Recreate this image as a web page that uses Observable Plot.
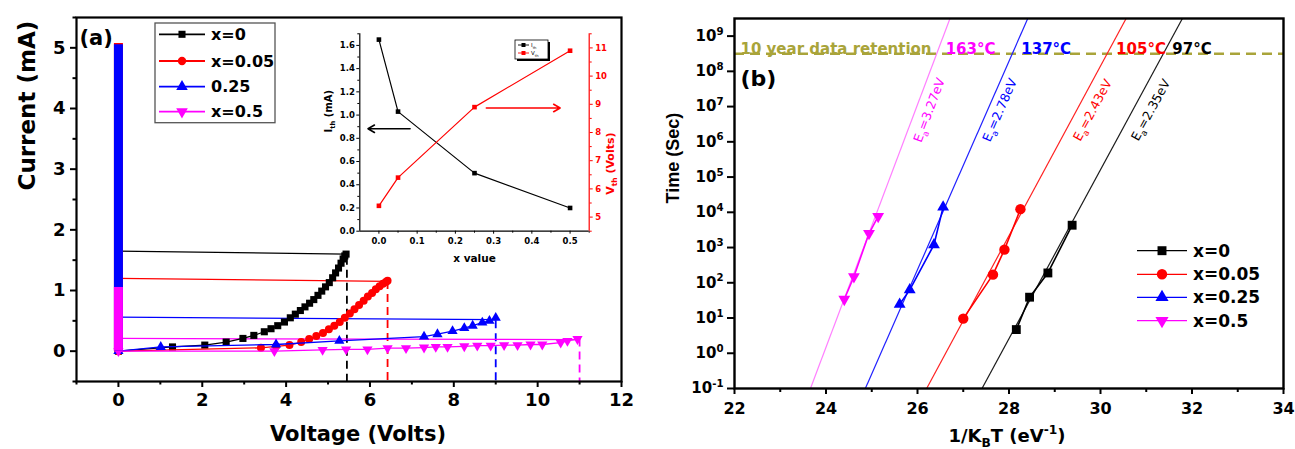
<!DOCTYPE html>
<html><head><meta charset="utf-8">
<script src="https://cdn.jsdelivr.net/npm/d3@7"></script>
<script src="https://cdn.jsdelivr.net/npm/@observablehq/plot@0.6"></script>
<style>
body{margin:0;background:#fff;}
#fig{position:relative;width:1295px;height:449px;overflow:hidden;background:#fff;}
#fig > svg{position:absolute;}
</style></head><body><div id="fig"></div>
<script>
// ================= DATA : panel (a) I-V sweeps =================
const seriesA = ["x=0", "x=0.05", "0.25", "x=0.5"];
const blackV = [0, 1.29, 2.06, 2.57, 2.97, 3.23, 3.48, 3.64, 3.80, 3.96, 4.10, 4.22, 4.34, 4.45, 4.56, 4.66, 4.76, 4.85, 4.94, 5.03, 5.11, 5.18, 5.25, 5.31, 5.36, 5.40, 5.43];
const blackI = [0, 0.07, 0.10, 0.15, 0.21, 0.26, 0.32, 0.37, 0.42, 0.48, 0.55, 0.61, 0.67, 0.73, 0.79, 0.85, 0.92, 0.99, 1.06, 1.13, 1.21, 1.29, 1.37, 1.45, 1.52, 1.57, 1.60];
const redV = [0, 3.40, 3.76, 4.08, 4.36, 4.55, 4.72, 4.88, 5.02, 5.15, 5.28, 5.40, 5.52, 5.63, 5.74, 5.85, 5.95, 6.05, 6.14, 6.23, 6.31, 6.38, 6.42];
const redI = [0, 0.055, 0.08, 0.10, 0.15, 0.20, 0.25, 0.30, 0.36, 0.42, 0.48, 0.55, 0.62, 0.69, 0.76, 0.83, 0.90, 0.96, 1.02, 1.07, 1.11, 1.14, 1.16];
const blueV = [0, 1.01, 3.76, 5.27, 7.29, 7.61, 7.97, 8.25, 8.45, 8.68, 8.85, 9.00];
const blueI = [0, 0.07, 0.11, 0.17, 0.24, 0.28, 0.33, 0.38, 0.42, 0.47, 0.50, 0.55];
const magV = [0, 3.72, 4.87, 5.43, 5.94, 6.42, 6.86, 7.29, 7.57, 7.85, 8.25, 8.56, 8.88, 9.20, 9.52, 9.83, 10.11, 10.55, 10.71, 10.95];
const magI = [0, 0.00, 0.02, 0.03, 0.03, 0.05, 0.05, 0.06, 0.07, 0.07, 0.08, 0.09, 0.09, 0.10, 0.10, 0.11, 0.11, 0.14, 0.17, 0.20];
// return sweeps (high V back to 0 V)
const retStartV = [5.43, 6.42, 9.00, 10.95];
const retStartI = [1.60, 1.15, 0.52, 0.19];
const retEndV = [0, 0, 0, 0];
const retEndI = [1.65, 1.20, 0.56, 0.21];
// dense points at 0 V (current sweep), top of each column
const barSeries = ["x=0.05", "0.25", "x=0.5"];
const barTopI = [5.07, 5.05, 1.05];
// threshold voltages (dashed drops)
const vthDashV = [5.45, 6.42, 9.00, 11.00];
const vthDashTopI = [1.55, 1.15, 0.50, 0.20];
// axes (a)
const aXDomain = [-1, 12], aYDomain = [-0.5, 5.5];
const aXMajor = [0, 2, 4, 6, 8, 10, 12], aXMinor = [-1, 1, 3, 5, 7, 9, 11];
const aYMajor = [0, 1, 2, 3, 4, 5], aYMinor = [-0.5, 0.5, 1.5, 2.5, 3.5, 4.5, 5.5];

// ================= DATA : inset =================
const insetX = [0, 0.05, 0.25, 0.5];
const insetIth = [1.65, 1.03, 0.50, 0.20];
const insetVth = [5.4, 6.4, 8.9, 10.9];
const insetXDomain = [-0.05, 0.55], insetIDomain = [0, 1.7], insetVDomain = [4.5, 11.5];
const insetXMajor = [0, 0.1, 0.2, 0.3, 0.4, 0.5], insetXMinor = [0.05, 0.15, 0.25, 0.35, 0.45, 0.55];
const insetIMajor = [0, 0.2, 0.4, 0.6, 0.8, 1.0, 1.2, 1.4, 1.6], insetIMinor = [0.1, 0.3, 0.5, 0.7, 0.9, 1.1, 1.3, 1.5, 1.7];
const insetVMajor = [5, 6, 7, 8, 9, 10, 11], insetVMinor = [4.5, 5.5, 6.5, 7.5, 8.5, 9.5, 10.5, 11.5];
const arrowIth = {x1: 0.0815, x2: -0.0286, y: 0.882};
const arrowVth = {x1: 0.281, x2: 0.474, y: 8.87};

// ================= DATA : panel (b) retention =================
const seriesB = ["x=0", "x=0.05", "x=0.25", "x=0.5"];
const bX0 = [28.16, 28.45, 28.85, 29.38], bT0 = [4.7, 39, 190, 4300];
const bX1 = [27.00, 27.65, 27.90, 28.25], bT1 = [9.6, 170, 870, 12300];
const bX2 = [25.61, 25.83, 26.36, 26.56], bT2 = [24.5, 63, 1200, 14000];
const bX3 = [24.40, 24.61, 24.94, 25.14], bT3 = [34, 150, 2500, 7700];
// Arrhenius fit lines: x at bottom and top of the plot
const fitXLow = [27.41, 26.20, 24.86, 23.66];
const fitXHigh = [31.79, 30.56, 28.41, 26.71];
const eaLabels = ["E_{a}=2.35eV", "E_{a}=2.43eV", "E_{a}=2.78eV", "E_{a}=3.27eV"];
const eaX = [31.10, 29.83, 27.80, 26.26];
const eaT = [7.9e6, 7.9e6, 7.9e6, 7.9e6];
const tempLabels = ["97°C", "105°C", "137°C", "163°C"];
const retentionSec = 3.15e8; // 10 years
const bXDomain = [22, 34], bYDomain = [0.1, 3.16e9];
const bXMajor = [22, 24, 26, 28, 30, 32, 34], bXMinor = [23, 25, 27, 29, 31, 33];
const bYTicks = [0.1, 1, 10, 100, 1e3, 1e4, 1e5, 1e6, 1e7, 1e8, 1e9];
const bYExp = [-1, 0, 1, 2, 3, 4, 5, 6, 7, 8, 9];

// ================= STYLES =================
const colA = ["#000000", "#ff0000", "#0000ff", "#ff00ff"];
const fitCol = ["#1a1a1a", "#ff2020", "#2020ff", "#ff80ff"];
const olive = "#a9a43a";
const FONT = "'DejaVu Sans', 'Liberation Sans', sans-serif";
const sqrt3 = Math.sqrt(3);
const invTriangle = {draw(ctx, size) {
  const y = -Math.sqrt(size / (sqrt3 * 3));
  ctx.moveTo(0, -y * 2); ctx.lineTo(-sqrt3 * y, y); ctx.lineTo(sqrt3 * y, y); ctx.closePath();
}};
const symA = ["square", "circle", "triangle", invTriangle];
const d3Sym = [d3.symbolSquare, d3.symbolCircle, d3.symbolTriangle, invTriangle];

// rich text: _{sub} and ^{sup}
function rich(root) {
  root.querySelectorAll("text").forEach(t => {
    const s = t.textContent;
    if (!/[_^]\{/.test(s)) return;
    const fs = parseFloat(getComputedStyle(t).fontSize) || 12;
    while (t.firstChild) t.removeChild(t.firstChild);
    const re = /([_^])\{([^}]*)\}/g; let last = 0, m, shift = 0;
    const add = (txt, sh, small) => {
      const ts = document.createElementNS("http://www.w3.org/2000/svg", "tspan");
      ts.textContent = txt; const dy = sh - shift;
      if (dy) ts.setAttribute("dy", dy);
      if (small) ts.setAttribute("font-size", fs * 0.68);
      t.appendChild(ts); shift = sh;
    };
    while ((m = re.exec(s))) {
      if (m.index > last) add(s.slice(last, m.index), 0, false);
      add(m[2], m[1] === "_" ? fs * 0.3 : -fs * 0.42, true);
      last = re.lastIndex;
    }
    if (last < s.length) add(s.slice(last), 0, false);
  });
}
const fig = document.getElementById("fig");
function place(svg, left, top) { svg.style.left = left + "px"; svg.style.top = top + "px"; fig.appendChild(svg); rich(svg); return svg; }
const baseStyle = {fontFamily: FONT, fontWeight: "bold", background: "transparent", overflow: "visible", color: "#000"};

// ================= PANEL (a) =================
const fwdA = [[blackV, blackI], [redV, redI], [blueV, blueI], [magV, magI]].map(([v, i], k) => v.map((d, j) => ({s: seriesA[k], k, v: d, i: i[j]})));
const retRows = retStartV.map((d, k) => ({k, v1: d, i1: retStartI[k], v2: retEndV[k], i2: retEndI[k]}));
const barRows = barSeries.map((s, j) => ({k: seriesA.indexOf(s), top: barTopI[j]}));
const dashRows = vthDashV.map((d, k) => ({k, v: d, top: vthDashTopI[k]}));
const rA = [4, 4, 3.8, 3.8];

const marksA = [
  Plot.axisX({ticks: aXMajor, tickSize: 6, tickPadding: 6, tickFormat: d => String(d), fontSize: 18, fontWeight: "bold", strokeWidth: 2, label: null}),
  Plot.axisX({ticks: aXMinor, tickSize: 3.5, tickFormat: () => "", strokeWidth: 2, label: null}),
  Plot.axisY({ticks: aYMajor, tickSize: 6, tickPadding: 5, tickFormat: d => String(d), fontSize: 18, fontWeight: "bold", strokeWidth: 2, label: null}),
  Plot.axisY({ticks: aYMinor, tickSize: 3.5, tickFormat: () => "", strokeWidth: 2, label: null}),
  Plot.ruleX(dashRows, {x: "v", y1: "top", y2: aYDomain[0], stroke: d => colA[d.k], strokeWidth: 1.8, strokeDasharray: "8,5"}),
  Plot.link(retRows, {x1: "v1", y1: "i1", x2: "v2", y2: "i2", stroke: d => colA[d.k], strokeWidth: 1.3}),
];
fwdA.forEach((rows, k) => {
  marksA.push(Plot.line(rows, {x: "v", y: "i", stroke: colA[k], strokeWidth: 1.3}));
  marksA.push(Plot.dot(rows, {x: "v", y: "i", fill: colA[k], stroke: "none", symbol: symA[k], r: rA[k]}));
});
barRows.forEach(b => marksA.push(Plot.ruleX([b], {x: 0, y1: 0, y2: "top", stroke: colA[b.k], strokeWidth: 9})));
marksA.push(
  Plot.frame({strokeWidth: 2.2}),
  Plot.text(["(a)"], {text: d => d, frameAnchor: "top-left", dx: 3, dy: 21, textAnchor: "start", lineAnchor: "middle", fontSize: 21, fontWeight: "bold"}),
  Plot.text(["Voltage (Volts)"], {text: d => d, frameAnchor: "bottom", dx: 9, dy: 59, lineAnchor: "bottom", fontSize: 21, fontWeight: "bold"}),
  Plot.text(["Current (mA)"], {text: d => d, frameAnchor: "left", dx: -49, dy: -9, rotate: -90, fontSize: 23, fontWeight: "bold"})
);
const plotA = Plot.plot({
  width: 640, height: 449, marginLeft: 76, marginRight: 19, marginTop: 17, marginBottom: 68,
  x: {domain: aXDomain}, y: {domain: aYDomain}, style: baseStyle, marks: marksA
});
place(plotA, 0, 0);

// ================= INSET =================
const insetDims = {width: 307, height: 245, marginLeft: 41.3, marginRight: 36.3, marginTop: 8.3, marginBottom: 39.3};
const iRows = insetX.map((x, j) => ({x, ith: insetIth[j], vth: insetVth[j]}));
const insetI = Plot.plot({
  ...insetDims, x: {domain: insetXDomain}, y: {domain: insetIDomain}, style: {...baseStyle, fontSize: "8.5px"},
  marks: [
    Plot.ruleX([insetXDomain[0]], {stroke: "#000", strokeWidth: 1.2}),
    Plot.ruleY([insetIDomain[0]], {stroke: "#000", strokeWidth: 1.2}),
    Plot.axisX({ticks: insetXMajor, tickSize: 3, tickPadding: 4, tickFormat: d3.format(".1f"), fontSize: 8.5, fontWeight: "bold", label: null}),
    Plot.axisX({ticks: insetXMinor, tickSize: 2, tickFormat: () => "", label: null}),
    Plot.axisY({ticks: insetIMajor, tickSize: 3, tickPadding: 2, tickFormat: d3.format(".1f"), fontSize: 8.5, fontWeight: "bold", label: null}),
    Plot.axisY({ticks: insetIMinor, tickSize: 2, tickFormat: () => "", label: null}),
    Plot.line(iRows, {x: "x", y: "ith", stroke: "#000", strokeWidth: 1.2}),
    Plot.dot(iRows, {x: "x", y: "ith", fill: "#000", symbol: "square", r: 2.6}),
    Plot.arrow([arrowIth], {x1: "x1", y1: "y", x2: "x2", y2: "y", stroke: "#000", strokeWidth: 1.6, headLength: 7}),
    Plot.text(["x value"], {text: d => d, frameAnchor: "bottom", dy: 31, lineAnchor: "bottom", fontSize: 10.5, fontWeight: "bold"}),
    Plot.text(["I_{th} (mA)"], {text: d => d, frameAnchor: "left", dx: -31, rotate: -90, fontSize: 10, fontWeight: "bold"})
  ]
});
place(insetI, 318, 25);
const insetV = Plot.plot({
  ...insetDims, x: {domain: insetXDomain, axis: null}, y: {domain: insetVDomain}, style: {...baseStyle, fontSize: "8.5px"},
  marks: [
    Plot.ruleX([insetXDomain[1]], {stroke: "#ff0000", strokeWidth: 1.2}),
    Plot.axisY({anchor: "right", ticks: insetVMajor, tickSize: 3, tickPadding: 3, tickFormat: d => String(d), fontSize: 8.5, fontWeight: "bold", fill: "#ff0000", stroke: "#ff0000", label: null}),
    Plot.axisY({anchor: "right", ticks: insetVMinor, tickSize: 2, tickFormat: () => "", stroke: "#ff0000", label: null}),
    Plot.line(iRows, {x: "x", y: "vth", stroke: "#ff0000", strokeWidth: 1.2}),
    Plot.dot(iRows, {x: "x", y: "vth", fill: "#ff0000", symbol: "square", r: 2.6}),
    Plot.arrow([arrowVth], {x1: "x1", y1: "y", x2: "x2", y2: "y", stroke: "#ff0000", strokeWidth: 1.6, headLength: 7}),
    Plot.text(["V_{th} (Volts)"], {text: d => d, frameAnchor: "right", dx: 21, rotate: -90, fontSize: 11, fontWeight: "bold", fill: "#ff0000"})
  ]
});
place(insetV, 318, 25);

// ================= PANEL (b) =================
const bXs = [bX0, bX1, bX2, bX3], bTs = [bT0, bT1, bT2, bT3];
const bDims = {width: 655, height: 449, marginLeft: 94, marginRight: 12, marginTop: 18, marginBottom: 61};
const innerW = bDims.width - bDims.marginLeft - bDims.marginRight;
const innerH = bDims.height - bDims.marginTop - bDims.marginBottom;
const lgMin = Math.log10(bYDomain[0]), lgMax = Math.log10(bYDomain[1]);
const fitRows = fitXLow.map((x, k) => ({k, x1: x, x2: fitXHigh[k]}));
const eaRows = eaLabels.map((t, k) => {
  const dxPx = (fitXHigh[k] - fitXLow[k]) / (bXDomain[1] - bXDomain[0]) * innerW;
  return {k, t, x: eaX[k], y: eaT[k], rot: -Math.atan2(innerH, dxPx) * 180 / Math.PI};
});
const tempRows = tempLabels.map((t, k) => ({k, t, y: retentionSec,
  x: fitXLow[k] + (Math.log10(retentionSec) - lgMin) / (lgMax - lgMin) * (fitXHigh[k] - fitXLow[k])}));
const rB = [5, 5.2, 4.4, 4.4];
const marksB = [
  Plot.axisX({ticks: bXMajor, tickSize: 6, tickPadding: 8, tickFormat: d => String(d), fontSize: 16, fontWeight: "bold", strokeWidth: 2, label: null}),
  Plot.axisX({ticks: bXMinor, tickSize: 4, tickFormat: () => "", strokeWidth: 2, label: null}),
  Plot.axisY({ticks: bYTicks, tickSize: 7, tickPadding: 4, tickFormat: d => `10^{${bYExp[bYTicks.indexOf(d)]}}`, fontSize: 15, fontWeight: "bold", strokeWidth: 2, label: null}),
  Plot.ruleY([retentionSec], {stroke: olive, strokeWidth: 2.6, strokeDasharray: "10,6"}),
  Plot.link(fitRows, {x1: "x1", y1: bYDomain[0], x2: "x2", y2: bYDomain[1], stroke: d => fitCol[d.k], strokeWidth: 1.2}),
];
bXs.forEach((xs, k) => {
  const rows = xs.map((x, j) => ({x, t: bTs[k][j]}));
  marksB.push(Plot.line(rows, {x: "x", y: "t", stroke: colA[k], strokeWidth: 1.6}));
  marksB.push(Plot.dot(rows, {x: "x", y: "t", fill: colA[k], stroke: "none", symbol: symA[k], r: rB[k]}));
});
marksB.push(
  Plot.frame({strokeWidth: 2.4}),
  Plot.text(eaRows, {x: "x", y: "y", text: "t", rotate: "rot", fill: d => colA[d.k], fontSize: 12.5, fontWeight: "normal"}),
  Plot.text(tempRows, {x: "x", y: "y", text: "t", dx: 9, dy: -5, textAnchor: "start", fill: d => colA[d.k], fontSize: 15, fontWeight: "bold"}),
  Plot.text(["10 year data retention"], {x: bXDomain[0], y: retentionSec, text: d => d, dx: 6, dy: -5, textAnchor: "start", fill: olive, fontSize: 15, fontWeight: "bold"}),
  Plot.text(["(b)"], {text: d => d, frameAnchor: "top-left", dx: 6, dy: 60, textAnchor: "start", lineAnchor: "middle", fontSize: 22, fontWeight: "bold"}),
  Plot.text(["1/K_{B}T (eV^{-1})"], {text: d => d, frameAnchor: "bottom", dx: -2, dy: 53, lineAnchor: "bottom", fontSize: 18, fontWeight: "bold"}),
  Plot.text(["Time (Sec)"], {text: d => d, frameAnchor: "left", dx: -61, rotate: -90, fontSize: 18, fontWeight: "bold", fontFamily: "'Liberation Sans', Arial, sans-serif"})
);
const plotB = Plot.plot({
  ...bDims, x: {domain: bXDomain}, y: {type: "log", domain: bYDomain}, style: baseStyle, marks: marksB
});
place(plotB, 640, 0);

// ================= LEGENDS (overlay) =================
const ov = d3.create("svg").attr("width", 1295).attr("height", 449)
  .style("left", "0px").style("top", "0px").style("font-family", FONT).style("font-weight", "bold");
// legend (a)
ov.append("rect").attr("x", 155).attr("y", 23).attr("width", 120).attr("height", 99.7)
  .attr("fill", "white").attr("stroke", "#555").attr("stroke-width", 1.3);
const legAY = [34.3, 61, 86.7, 111.7], legASize = [50, 55, 58, 58];
seriesA.forEach((s, k) => {
  const g = ov.append("g").attr("transform", `translate(0,${legAY[k]})`);
  g.append("line").attr("x1", 159).attr("x2", 205).attr("stroke", colA[k]).attr("stroke-width", 1.8);
  g.append("path").attr("transform", "translate(182,0)").attr("d", d3.symbol(d3Sym[k], legASize[k])()).attr("fill", colA[k]);
  g.append("text").attr("x", 211).attr("dy", "0.36em").attr("font-size", 16).text(s);
});
// legend (b)
const legBY = [250.7, 274.3, 297.3, 320.7], legBSize = [80, 85, 75, 75];
seriesB.forEach((s, k) => {
  const g = ov.append("g").attr("transform", `translate(0,${legBY[k]})`);
  g.append("line").attr("x1", 1137).attr("x2", 1187).attr("stroke", colA[k]).attr("stroke-width", 1.2);
  g.append("path").attr("transform", "translate(1162,0)").attr("d", d3.symbol(d3Sym[k], legBSize[k])()).attr("fill", colA[k]);
  g.append("text").attr("x", 1193).attr("dy", "0.36em").attr("font-size", 17).text(s);
});
// inset mini legend
ov.append("rect").attr("x", 517).attr("y", 42).attr("width", 33).attr("height", 19).attr("fill", "#000");
ov.append("rect").attr("x", 515).attr("y", 40).attr("width", 33).attr("height", 19).attr("fill", "white").attr("stroke", "#000").attr("stroke-width", 0.8);
["I_{th}", "V_{th}"].forEach((s, k) => {
  const y = 45 + k * 8, c = k ? "#ff0000" : "#000";
  ov.append("line").attr("x1", 518).attr("x2", 529).attr("y1", y).attr("y2", y).attr("stroke", c).attr("stroke-width", 0.9);
  ov.append("rect").attr("x", 521.5).attr("y", y - 2).attr("width", 4).attr("height", 4).attr("fill", c);
  ov.append("text").attr("x", 531).attr("y", y).attr("dy", "0.35em").attr("font-size", 5.5).attr("font-weight", "normal").text(s);
});
place(ov.node(), 0, 0);
</script>
</body></html>
